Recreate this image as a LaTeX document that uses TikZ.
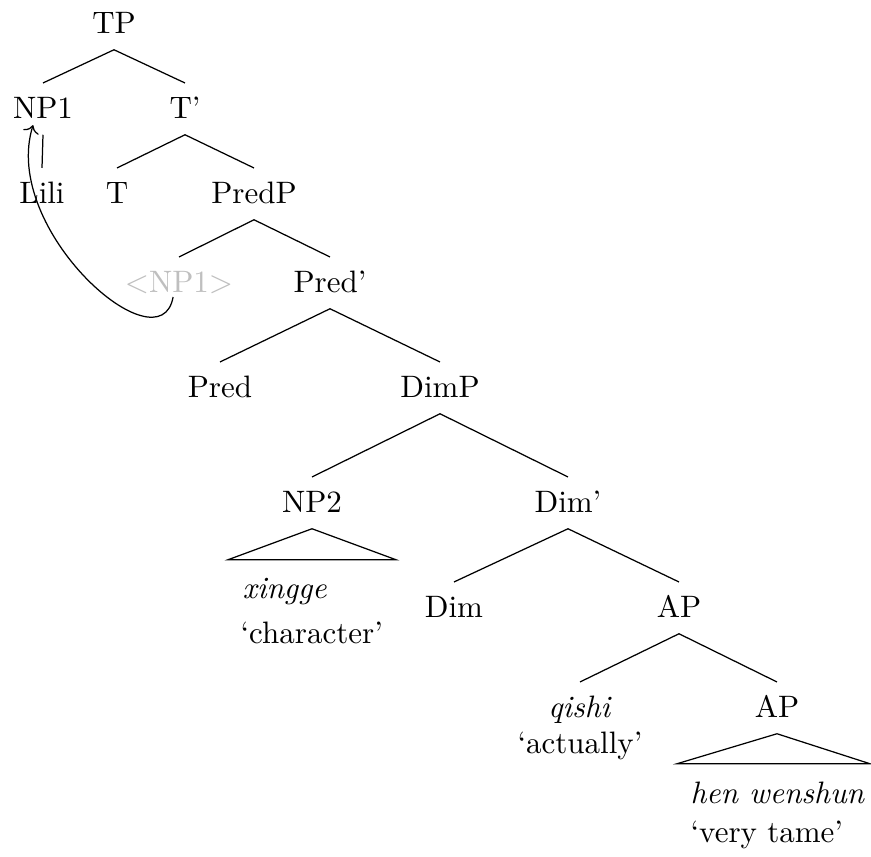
\documentclass[tikz,border=0pt]{standalone}
\usetikzlibrary{arrows.meta}
\begin{document}
\begin{tikzpicture}[x=0.3226pt,y=-0.3226pt,line width=0.4pt,
  cat/.style={anchor=base,inner xsep=1pt,inner ysep=2pt,text height=9.1pt,text depth=3.2pt},
  gloss/.style={anchor=base west,inner sep=0pt}]
\useasboundingbox (0,0) rectangle (871,857);
% categories
\node[cat] (tp) at (114,33) {TP};
\node[cat] (np1) at (43,118) {NP1};
\node[cat] (tbar) at (185,118) {T'};
\node[cat] (lili) at (42,203) {Lili};
\node[cat] (t) at (117,203) {T};
\node[cat] (predp) at (254,203) {PredP};
\node[cat,text=black!25] (trace) at (179,292) {$<$NP1$>$};
\node[cat] (predbar) at (330,292) {Pred'};
\node[cat] (pred) at (220,397) {Pred};
\node[cat] (dimp) at (440,397) {DimP};
\node[cat] (np2) at (312,512) {NP2};
\node[cat] (dimbar) at (568,512) {Dim'};
\node[cat] (dim) at (454,617) {Dim};
\node[cat] (ap) at (679,617) {AP};
\node[cat] (qishi) at (580,717) {\textit{qishi}};
\node[cat] (aptwo) at (777,717) {AP};
% glosses
\node[gloss] (xingge) at (242,598) {\textit{xingge}};
\node[gloss] (character) at (240,643) {`character'};
\node[cat,inner sep=0pt] (actually) at (580,753) {`actually'};
\node[gloss] (wenshun) at (690,803) {\textit{hen wenshun}};
\node[gloss] (tame) at (690,842) {`very tame'};
% branches
\draw (tp.south) -- (np1.north);
\draw (tp.south) -- (tbar.north);
\draw (np1.south) -- (lili.north);
\draw (tbar.south) -- (t.north);
\draw (tbar.south) -- (predp.north);
\draw (predp.south) -- (trace.north);
\draw (predp.south) -- (predbar.north);
\draw (predbar.south) -- (pred.north);
\draw (predbar.south) -- (dimp.north);
\draw (dimp.south) -- (np2.north);
\draw (dimp.south) -- (dimbar.north);
\draw (dimbar.south) -- (dim.north);
\draw (dimbar.south) -- (ap.north);
\draw (ap.south) -- (qishi.north);
\draw (ap.south) -- (aptwo.north);
% roofs
\draw (np2.south) -- ++(-84,31) -- ++(168,0) -- cycle;
\draw (aptwo.south) -- ++(-100,30) -- ++(193,0) -- cycle;
% movement
\draw[->] ([xshift=-1.9pt,yshift=-1.6pt]trace.base) .. controls +(-13,73) and +(-33,105) .. ([xshift=-3.2pt,yshift=-2.3pt]np1.base);
\end{tikzpicture}
\end{document}
